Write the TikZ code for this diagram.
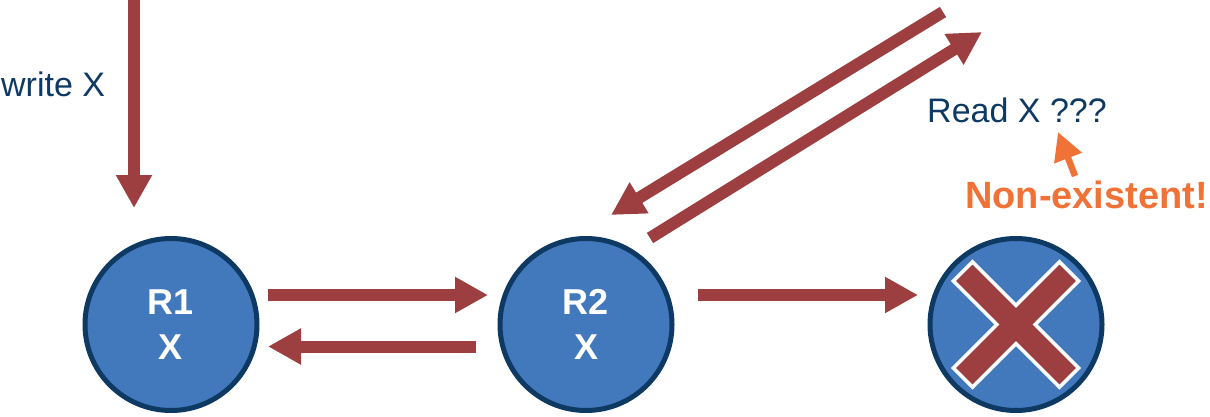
\documentclass[tikz,border=0pt]{standalone}
\usepackage{fontspec}
\setmainfont{Liberation Sans}
\usetikzlibrary{arrows.meta}
\definecolor{rblue}{HTML}{4279BD}
\definecolor{rnavy}{HTML}{0D3962}
\definecolor{rred}{HTML}{9D3F40}
\definecolor{rorange}{HTML}{F07236}
\begin{document}
\begin{tikzpicture}[x=1pt,y=-1pt,
  router/.style={circle,draw=rnavy,line width=5pt,fill=rblue,minimum size=172pt,
    inner sep=0pt,text=white,align=center,font=\fontsize{36}{45}\selectfont\bfseries},
  msg/.style={draw=rred,line width=12pt,-{Triangle[length=33pt,width=34pt]}},
  lbl/.style={text=rnavy,inner sep=0pt,anchor=base west,font=\fontsize{34}{40}\selectfont}]
\useasboundingbox (0,0) rectangle (1210,417);

\node[router] (r1) at (171,324.5) {R1\\X};
\node[router] (r2) at (586,324.5) {R2\\X};
\node[router] (r3) at (1016,324.5) {};

% crossed out replica
\begin{scope}[shift={(r3.center)},rotate=45]
\draw[white,line width=3.5pt,fill=rred]
  (13.5,13.5) -- (13.5,75) -- (-13.5,75) -- (-13.5,13.5) -- (-75,13.5) -- (-75,-13.5)
  -- (-13.5,-13.5) -- (-13.5,-75) -- (13.5,-75) -- (13.5,-13.5) -- (75,-13.5) -- (75,13.5) -- cycle;
\end{scope}

\node[lbl] (wx) at (1,97) {write X};
\node[lbl] (rx) at (927,123) {Read X ???};
\node[lbl,text=rorange,font=\fontsize{38}{45}\selectfont\bfseries] (nx) at (965,208) {Non-existent!};

\coordinate (wtop) at (134,0);
\coordinate (far1) at (943,12);
\coordinate (far2) at (982,32);

\draw[msg,shorten >=28pt] (wtop) -- ([xshift=-37pt]r1.north);
\draw[msg,shorten <=8.5pt,shorten >=9.5pt] ([yshift=29.5pt]r1.east) -- ([yshift=29.5pt]r2.west);
\draw[msg,shorten <=21.5pt,shorten >=8.5pt] ([yshift=-22pt]r2.west) -- ([yshift=-22pt]r1.east);
\draw[msg,shorten <=23.5pt,shorten >=9.5pt] ([yshift=29.5pt]r2.east) -- ([yshift=29.5pt]r3.west);
\draw[msg] (far1) -- ([shift={(25,-109.5)}]r2.center);
\draw[msg] ([shift={(64,-86.5)}]r2.center) -- (far2);

\draw[draw=rorange,line width=6.5pt,-{Triangle[length=28pt,width=28pt]}]
  ([shift={(110,-32)}]nx.base west) -- ([shift={(131,9)}]rx.base west);
\end{tikzpicture}
\end{document}
